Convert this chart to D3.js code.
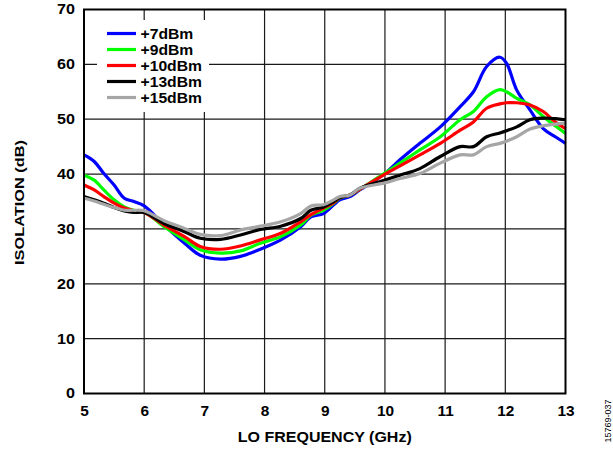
<!DOCTYPE html>
<html>
<head>
<meta charset="utf-8">
<script src="https://cdn.jsdelivr.net/npm/d3@7"></script>
<style>
  html, body { margin: 0; padding: 0; background: #fff; }
  svg { display: block; font-family: "Liberation Sans", Arial, sans-serif; }
</style>
</head>
<body>
<svg id="chart" width="613" height="451"></svg>
<script>
const freq = [5.0, 5.17, 5.33, 5.5, 5.67, 5.83, 6.0, 6.33, 6.67, 6.93, 7.27, 7.6, 7.93, 8.27, 8.6, 8.77, 8.98, 9.15, 9.25, 9.42, 9.58, 10.0, 10.25, 10.58, 10.92, 11.25, 11.47, 11.69, 11.91, 12.02, 12.19, 12.41, 12.63, 12.83, 13.0];
const iso7  = [43.5, 42.3, 40.1, 38.0, 35.6, 35.0, 34.2, 30.7, 27.4, 25.2, 24.5, 25.0, 26.3, 28.0, 30.4, 32.2, 32.8, 34.4, 35.3, 35.9, 37.1, 40.1, 42.6, 45.6, 48.6, 52.3, 55.0, 59.6, 61.3, 60.2, 55.3, 51.7, 48.3, 46.8, 45.6];
const iso9  = [39.8, 38.9, 37.1, 35.3, 34.0, 33.4, 33.1, 30.4, 28.0, 26.2, 25.6, 26.0, 27.4, 28.6, 30.7, 32.5, 33.4, 34.7, 35.6, 36.2, 37.2, 40.2, 42.0, 44.4, 46.8, 49.9, 51.4, 54.1, 55.4, 55.0, 53.8, 52.6, 50.5, 48.8, 47.4];
const iso10 = [38.0, 37.1, 35.9, 34.7, 33.8, 33.3, 33.0, 30.7, 28.6, 26.8, 26.3, 26.9, 28.0, 29.2, 31.3, 32.6, 33.8, 34.8, 35.7, 36.2, 37.2, 40.0, 41.5, 43.5, 45.6, 48.0, 49.5, 52.0, 52.8, 53.0, 53.0, 52.6, 51.4, 49.5, 48.3];
const iso13 = [35.9, 35.3, 34.7, 33.9, 33.3, 33.0, 33.0, 31.0, 29.5, 28.3, 28.1, 28.9, 29.9, 30.5, 31.9, 33.4, 34.0, 35.0, 35.7, 36.2, 37.4, 38.9, 39.8, 41.0, 43.2, 45.0, 45.0, 46.8, 47.5, 47.9, 48.6, 49.9, 50.2, 50.1, 49.9];
const iso15 = [35.6, 35.1, 34.5, 33.9, 33.4, 33.4, 33.3, 31.5, 30.1, 29.0, 28.8, 29.8, 30.5, 31.3, 32.8, 34.2, 34.4, 35.3, 35.9, 36.2, 37.4, 38.4, 39.2, 40.1, 42.0, 43.5, 43.5, 45.0, 45.6, 46.0, 46.8, 48.2, 48.8, 49.1, 49.3];
const seriesNames = ["+7dBm", "+9dBm", "+10dBm", "+13dBm", "+15dBm"];
const seriesColors = ["#0000ff", "#00ff00", "#ff0000", "#000000", "#a6a6a6"];
const xTicks = [5, 6, 7, 8, 9, 10, 11, 12, 13];
const yTicks = [0, 10, 20, 30, 40, 50, 60, 70];
const xTitle = "LO FREQUENCY (GHz)";
const yTitle = "ISOLATION (dB)";
const figId = "15769-037";

const allSeries = [iso7, iso9, iso10, iso13, iso15];

const svg = d3.select("#chart");
const L = 84, R = 565.5, T = 9.5, B = 393.5;
const x = d3.scaleLinear().domain([5, 13]).range([L, R]);
const y = d3.scaleLinear().domain([0, 70]).range([B, T]);

function stretch(sel, k) {
  sel.each(function () {
    const w = this.getComputedTextLength();
    d3.select(this).attr("textLength", w * k).attr("lengthAdjust", "spacingAndGlyphs");
  });
}

// grid
const grid = svg.append("g").attr("stroke", "#1a1a1a").attr("stroke-width", 1.2);
grid.selectAll(".vx").data(xTicks.slice(1, -1)).enter().append("line")
  .attr("x1", d => x(d)).attr("x2", d => x(d)).attr("y1", T).attr("y2", B);
grid.selectAll(".hy").data(yTicks.slice(1, -1)).enter().append("line")
  .attr("y1", d => y(d)).attr("y2", d => y(d)).attr("x1", L).attr("x2", R);

// legend background box (covers grid)
svg.append("rect").attr("x", 97).attr("y", 20).attr("width", 112).attr("height", 92).attr("fill", "#fff");

// lines
const line = d3.line().x((d, i) => x(freq[i])).y(d => y(d)).curve(d3.curveCatmullRom.alpha(0.5));
svg.append("g").selectAll("path").data(allSeries).enter().append("path")
  .attr("d", d => line(d))
  .attr("fill", "none")
  .attr("stroke", (d, i) => seriesColors[i])
  .attr("stroke-width", 3.2)
  .attr("stroke-linejoin", "round");

// frame
svg.append("rect").attr("x", L).attr("y", T).attr("width", R - L).attr("height", B - T)
  .attr("fill", "none").attr("stroke", "#000").attr("stroke-width", 2);

// axes
const xAxis = svg.append("g").attr("transform", `translate(0,${B})`)
  .call(d3.axisBottom(x).tickValues(xTicks).tickSize(0).tickPadding(13).tickFormat(d3.format("d")));
xAxis.select(".domain").remove();
xAxis.selectAll("text").attr("font-size", 14).attr("font-weight", "bold").attr("fill", "#000")
  .attr("font-family", "'Liberation Sans', Arial, sans-serif").call(stretch, 1.1);

const yAxis = svg.append("g").attr("transform", `translate(${L},0)`)
  .call(d3.axisLeft(y).tickValues(yTicks).tickSize(0).tickPadding(9).tickFormat(d3.format("d")));
yAxis.select(".domain").remove();
yAxis.selectAll("text").attr("font-size", 14).attr("font-weight", "bold").attr("fill", "#000")
  .attr("font-family", "'Liberation Sans', Arial, sans-serif").call(stretch, 1.15);

// titles
svg.append("text").attr("x", (L + R) / 2).attr("y", 442).attr("text-anchor", "middle")
  .attr("font-size", 14).attr("font-weight", "bold").text(xTitle)
  .attr("textLength", 174).attr("lengthAdjust", "spacingAndGlyphs");
svg.append("text").attr("transform", `translate(23.5,202.5) rotate(-90)`).attr("text-anchor", "middle")
  .attr("font-size", 12.5).attr("font-weight", "bold").text(yTitle)
  .attr("textLength", 125).attr("lengthAdjust", "spacingAndGlyphs");
svg.append("text").attr("transform", `translate(611,421) rotate(-90)`).attr("text-anchor", "middle")
  .attr("font-size", 9).text(figId);

// legend
const lg = svg.append("g");
seriesNames.forEach((name, i) => {
  const ly = 33.5 + i * 16;
  lg.append("line").attr("x1", 107).attr("x2", 136).attr("y1", ly).attr("y2", ly)
    .attr("stroke", seriesColors[i]).attr("stroke-width", 3.2);
  lg.append("text").attr("x", 140.5).attr("y", ly + 5).attr("font-size", 14).attr("font-weight", "bold")
    .text(name).call(stretch, 1.12);
});
</script>
</body>
</html>
